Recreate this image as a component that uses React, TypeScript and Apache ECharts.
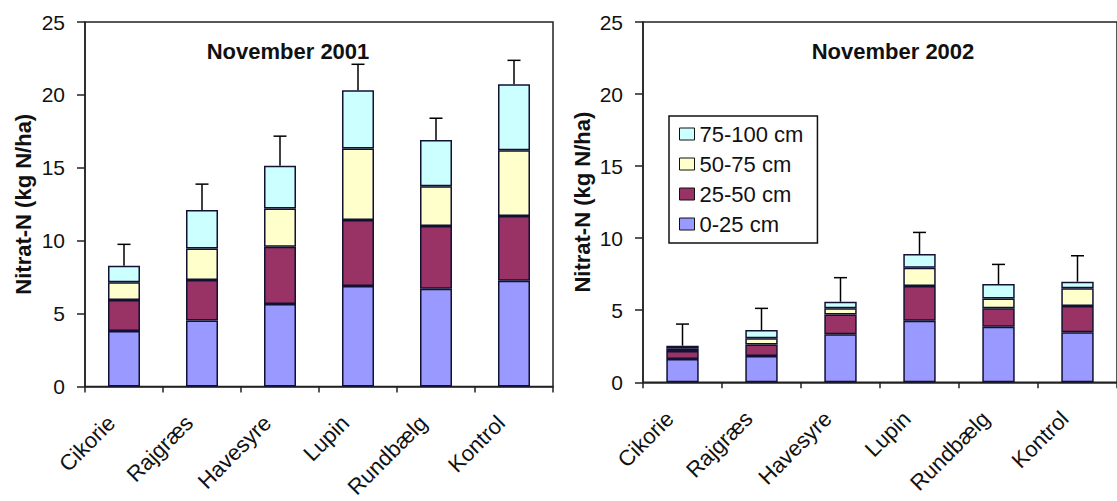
import React, { useEffect, useRef } from "react";
import * as echarts from "echarts";

const categories = ["Cikorie", "Rajgræs", "Havesyre", "Lupin", "Rundbælg", "Kontrol"];
const layerNames = ["0-25 cm", "25-50 cm", "50-75 cm", "75-100 cm"];
const layerColors = ["#9999FF", "#993366", "#FFFFCC", "#CCFFFF"];
const titles = ["November 2001", "November 2002"];
const yTicks = [0, 5, 10, 15, 20, 25];

// November 2001 (segment heights, kg N/ha)
const n2001_0_25 = [3.81, 4.52, 5.66, 6.89, 6.71, 7.26];
const n2001_25_50 = [2.13, 2.79, 3.93, 4.53, 4.29, 4.43];
const n2001_50_75 = [1.21, 2.16, 2.62, 4.9, 2.74, 4.52];
const n2001_75_100 = [1.14, 2.63, 2.93, 4.0, 3.16, 4.52];
const n2001_err = [1.46, 1.78, 2.03, 1.78, 1.5, 1.64];

// November 2002
const n2002_0_25 = [1.62, 1.83, 3.33, 4.27, 3.86, 3.47];
const n2002_25_50 = [0.55, 0.8, 1.38, 2.41, 1.27, 1.82];
const n2002_50_75 = [0.2, 0.42, 0.42, 1.27, 0.69, 1.23];
const n2002_75_100 = [0.17, 0.58, 0.46, 0.95, 1.0, 0.46];
const n2002_err = [1.5, 1.5, 1.67, 1.5, 1.36, 1.8];

const FONT = "'Liberation Sans', Arial, sans-serif";

export default function App() {
  const ref = useRef<HTMLDivElement>(null);

  useEffect(() => {
    if (!ref.current) return;
    const chart = echarts.init(ref.current, undefined, { renderer: "svg" });

    const years = [
      [n2001_0_25, n2001_25_50, n2001_50_75, n2001_75_100],
      [n2002_0_25, n2002_25_50, n2002_50_75, n2002_75_100],
    ];
    const errs = [n2001_err, n2002_err];

    const series: any[] = [];
    years.forEach((layers, gi) => {
      layers.forEach((vals, li) => {
        series.push({
          name: layerNames[li],
          type: "bar",
          stack: "s" + gi,
          xAxisIndex: gi,
          yAxisIndex: gi,
          barWidth: "41%",
          data: vals,
          itemStyle: { color: layerColors[li], borderColor: "#111133", borderWidth: 1.5 },
          emphasis: { disabled: true },
        });
      });
      const errData = categories.map((_, i) => {
        const total = layers.reduce((s, arr) => s + arr[i], 0);
        return [i, total, total + errs[gi][i]];
      });
      series.push({
        type: "custom",
        xAxisIndex: gi,
        yAxisIndex: gi,
        z: 10,
        encode: { x: 0, y: [1, 2] },
        data: errData,
        renderItem: (params: any, api: any) => {
          const x = api.value(0);
          const p0 = api.coord([x, api.value(1)]);
          const p1 = api.coord([x, api.value(2)]);
          return {
            type: "group",
            children: [
              {
                type: "line",
                shape: { x1: p0[0], y1: p0[1], x2: p1[0], y2: p1[1] },
                style: { stroke: "#000", lineWidth: 1.5 },
              },
              {
                type: "line",
                shape: { x1: p1[0] - 6.5, y1: p1[1], x2: p1[0] + 6.5, y2: p1[1] },
                style: { stroke: "#000", lineWidth: 1.5 },
              },
            ],
          };
        },
      });
    });

    const axisLine = { show: true, lineStyle: { color: "#222", width: 1.5 } };
    const mkX = (gi: number) => ({
      type: "category",
      gridIndex: gi,
      data: categories,
      boundaryGap: true,
      axisLine,
      axisTick: { show: true, length: 6, lineStyle: { color: "#222", width: 1.5 } },
      axisLabel: {
        rotate: 45,
        margin: 20,
        interval: 0,
        fontSize: 22,
        fontFamily: FONT,
        color: "#111",
        padding: [0, 18, 0, 0],
      },
    });
    const mkY = (gi: number) => ({
      type: "value",
      gridIndex: gi,
      min: yTicks[0],
      max: yTicks[yTicks.length - 1],
      interval: yTicks[1] - yTicks[0],
      splitLine: { show: false },
      axisLine,
      axisTick: { show: true, length: 8, lineStyle: { color: "#222", width: 1.5 } },
      axisLabel: { fontSize: 21, fontFamily: FONT, color: "#111", margin: 20 },
      name: "Nitrat-N (kg N/ha)",
      nameLocation: "middle",
      nameGap: gi === 0 ? 51 : 50,
      nameTextStyle: { fontSize: 22, fontWeight: "bold", fontFamily: FONT, color: "#111" },
    });

    chart.setOption({
      animation: false,
      backgroundColor: "#fff",
      title: [
        {
          text: titles[0],
          left: 283,
          top: 35,
          textAlign: "center",
          textStyle: { fontSize: 22, fontWeight: "bold", fontFamily: FONT, color: "#111" },
        },
        {
          text: titles[1],
          left: 888,
          top: 35,
          textAlign: "center",
          textStyle: { fontSize: 22, fontWeight: "bold", fontFamily: FONT, color: "#111" },
        },
      ],
      legend: {
        data: [...layerNames].reverse(),
        orient: "vertical",
        left: 669,
        top: 116,
        itemWidth: 15,
        itemHeight: 12,
        itemGap: 8,
        padding: [7, 14, 8, 10],
        borderColor: "#111",
        borderWidth: 1.5,
        backgroundColor: "#fff",
        selectedMode: false,
        icon: "rect",
        itemStyle: { borderColor: "#111", borderWidth: 1 },
        textStyle: { fontSize: 22, fontFamily: FONT, color: "#111" },
      },
      grid: [
        { left: 85, top: 22, width: 468, height: 364.5, show: true, borderColor: "#222", borderWidth: 1.5 },
        { left: 643, top: 22, width: 479, height: 360.3, show: true, borderColor: "#222", borderWidth: 1.5 },
      ],
      xAxis: [mkX(0), mkX(1)],
      yAxis: [mkY(0), mkY(1)],
      series,
    });

    return () => chart.dispose();
  }, []);

  return (
    <div
      ref={ref}
      style={{ position: "absolute", left: 0, top: 0, width: 1117, height: 501, background: "#fff" }}
    />
  );
}
